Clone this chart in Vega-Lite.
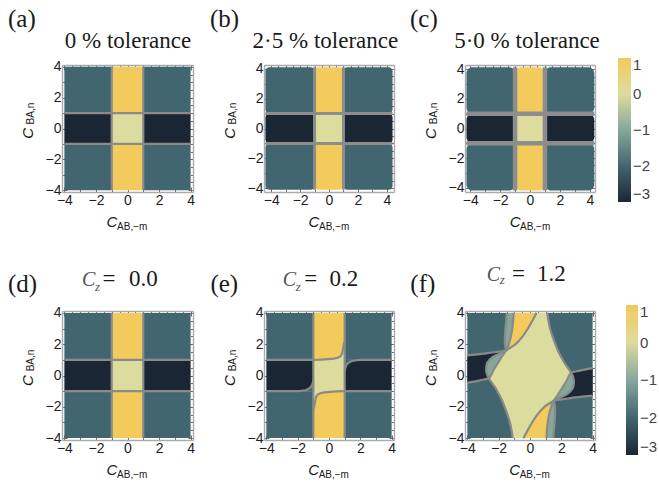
{
  "$schema": "https://vega.github.io/schema/vega-lite/v6.json",
  "background": "white",
  "padding": {"left": 8, "top": 6, "right": 0, "bottom": 0},
  "bounds": "flush",
  "columns": 3,
  "spacing": {"row": 119, "column": 71},
  "config": {
    "view": {"stroke": null},
    "axis": {"domainColor": "#ababab", "domainWidth": 1.4, "tickColor": "#6a6a6a", "tickWidth": 1, "labelFont": "Liberation Sans", "labelFontSize": 14, "labelColor": "#1e1e1e", "grid": false},
    "legend": {"labelFont": "Liberation Sans", "labelFontSize": 15, "labelColor": "#444444", "labelOffset": 7, "gradientStrokeWidth": 0},
    "style": {
      "plabel": {"font": "Liberation Serif", "fontSize": 25, "align": "left", "baseline": "alphabetic", "color": "#1a1a1a"},
      "ptitle": {"font": "Liberation Serif", "fontSize": 23, "align": "center", "baseline": "alphabetic", "color": "#1a1a1a"},
      "czc": {"font": "Liberation Serif", "fontSize": 20, "fontStyle": "italic", "align": "left", "baseline": "alphabetic", "color": "#555555"},
      "czs": {"font": "Liberation Serif", "fontSize": 13, "fontStyle": "italic", "align": "left", "baseline": "alphabetic", "color": "#555555"},
      "yc": {"font": "Liberation Sans", "fontSize": 15, "fontStyle": "italic", "align": "center", "baseline": "middle", "angle": 270, "color": "#1a1a1a"},
      "ysub": {"font": "Liberation Sans", "fontSize": 10, "align": "center", "baseline": "middle", "angle": 270, "color": "#1a1a1a"},
      "xc": {"font": "Liberation Sans", "fontSize": 15, "fontStyle": "italic", "align": "center", "baseline": "alphabetic", "color": "#1a1a1a"},
      "xsub": {"font": "Liberation Sans", "fontSize": 10, "align": "left", "baseline": "alphabetic", "color": "#1a1a1a"}
    }
  },
  "datasets": {
    "g0": [
      {"x1": -4, "x2": -1, "y1": 1, "y2": 4, "v": -2},
      {"x1": -1, "x2": 1, "y1": 1, "y2": 4, "v": 1},
      {"x1": 1, "x2": 4, "y1": 1, "y2": 4, "v": -2},
      {"x1": -4, "x2": -1, "y1": -1, "y2": 1, "v": -3},
      {"x1": -1, "x2": 1, "y1": -1, "y2": 1, "v": 0},
      {"x1": 1, "x2": 4, "y1": -1, "y2": 1, "v": -3},
      {"x1": -4, "x2": -1, "y1": -4, "y2": -1, "v": -2},
      {"x1": -1, "x2": 1, "y1": -4, "y2": -1, "v": 1},
      {"x1": 1, "x2": 4, "y1": -4, "y2": -1, "v": -2}
    ],
    "l0": [
      {"x1": -1, "y1": -4, "x2": -1, "y2": 4},
      {"x1": 1, "y1": -4, "x2": 1, "y2": 4},
      {"x1": -4, "y1": -1, "x2": 4, "y2": -1},
      {"x1": -4, "y1": 1, "x2": 4, "y2": 1}
    ],
    "g1": [
      {"x1": -4.4, "x2": -1, "y1": 1, "y2": 4.1, "v": -2},
      {"x1": -1, "x2": 1, "y1": 1, "y2": 4.1, "v": 1},
      {"x1": 1, "x2": 4.4, "y1": 1, "y2": 4.1, "v": -2},
      {"x1": -4.4, "x2": -1, "y1": -1, "y2": 1, "v": -3},
      {"x1": -1, "x2": 1, "y1": -1, "y2": 1, "v": 0},
      {"x1": 1, "x2": 4.4, "y1": -1, "y2": 1, "v": -3},
      {"x1": -4.4, "x2": -1, "y1": -4.1, "y2": -1, "v": -2},
      {"x1": -1, "x2": 1, "y1": -4.1, "y2": -1, "v": 1},
      {"x1": 1, "x2": 4.4, "y1": -4.1, "y2": -1, "v": -2}
    ],
    "l1": [
      {"x1": -1, "y1": -4.1, "x2": -1, "y2": 4.1},
      {"x1": 1, "y1": -4.1, "x2": 1, "y2": 4.1},
      {"x1": -4.4, "y1": -1, "x2": 4.4, "y2": -1},
      {"x1": -4.4, "y1": 1, "x2": 4.4, "y2": 1}
    ],
    "g2": [
      {"x1": -4.25, "x2": -1, "y1": 1, "y2": 4.15, "v": -2},
      {"x1": -1, "x2": 1, "y1": 1, "y2": 4.15, "v": 1},
      {"x1": 1, "x2": 4.3, "y1": 1, "y2": 4.15, "v": -2},
      {"x1": -4.25, "x2": -1, "y1": -1, "y2": 1, "v": -3},
      {"x1": -1, "x2": 1, "y1": -1, "y2": 1, "v": 0},
      {"x1": 1, "x2": 4.3, "y1": -1, "y2": 1, "v": -3},
      {"x1": -4.25, "x2": -1, "y1": -4.2, "y2": -1, "v": -2},
      {"x1": -1, "x2": 1, "y1": -4.2, "y2": -1, "v": 1},
      {"x1": 1, "x2": 4.3, "y1": -4.2, "y2": -1, "v": -2}
    ],
    "l2": [
      {"x1": -1, "y1": -4.2, "x2": -1, "y2": 4.15},
      {"x1": 1, "y1": -4.2, "x2": 1, "y2": 4.15},
      {"x1": -4.25, "y1": -1, "x2": 4.3, "y2": -1},
      {"x1": -4.25, "y1": 1, "x2": 4.3, "y2": 1}
    ],
    "ae": [
      {"part": "hornT", "x": -1, "ylo": 1, "yhi": 1.0, "v": 0},
      {"part": "hornT", "x": -0.5, "ylo": 1, "yhi": 1.02, "v": 0},
      {"part": "hornT", "x": -0.07, "ylo": 1, "yhi": 1.05, "v": 0},
      {"part": "hornT", "x": 0.3, "ylo": 1, "yhi": 1.08, "v": 0},
      {"part": "hornT", "x": 0.56, "ylo": 1, "yhi": 1.13, "v": 0},
      {"part": "hornT", "x": 0.72, "ylo": 1, "yhi": 1.22, "v": 0},
      {"part": "hornT", "x": 0.82, "ylo": 1, "yhi": 1.35, "v": 0},
      {"part": "hornT", "x": 0.88, "ylo": 1, "yhi": 1.6, "v": 0},
      {"part": "hornT", "x": 0.92, "ylo": 1, "yhi": 1.85, "v": 0},
      {"part": "hornT", "x": 0.96, "ylo": 1, "yhi": 2.05, "v": 0},
      {"part": "hornT", "x": 1.0, "ylo": 1, "yhi": 2.12, "v": 0},
      {"part": "hornB", "x": -1.0, "ylo": -2.12, "yhi": -1, "v": 0},
      {"part": "hornB", "x": -0.96, "ylo": -2.05, "yhi": -1, "v": 0},
      {"part": "hornB", "x": -0.92, "ylo": -1.85, "yhi": -1, "v": 0},
      {"part": "hornB", "x": -0.88, "ylo": -1.6, "yhi": -1, "v": 0},
      {"part": "hornB", "x": -0.82, "ylo": -1.35, "yhi": -1, "v": 0},
      {"part": "hornB", "x": -0.72, "ylo": -1.22, "yhi": -1, "v": 0},
      {"part": "hornB", "x": -0.56, "ylo": -1.13, "yhi": -1, "v": 0},
      {"part": "hornB", "x": -0.3, "ylo": -1.08, "yhi": -1, "v": 0},
      {"part": "hornB", "x": 0.07, "ylo": -1.05, "yhi": -1, "v": 0},
      {"part": "hornB", "x": 0.5, "ylo": -1.02, "yhi": -1, "v": 0},
      {"part": "hornB", "x": 1, "ylo": -1.0, "yhi": -1, "v": 0},
      {"part": "wedgeR", "x": 1.0, "ylo": 0.3, "yhi": 1, "v": -2},
      {"part": "wedgeR", "x": 1.03, "ylo": 0.45, "yhi": 1, "v": -2},
      {"part": "wedgeR", "x": 1.1, "ylo": 0.65, "yhi": 1, "v": -2},
      {"part": "wedgeR", "x": 1.2, "ylo": 0.78, "yhi": 1, "v": -2},
      {"part": "wedgeR", "x": 1.35, "ylo": 0.88, "yhi": 1, "v": -2},
      {"part": "wedgeR", "x": 1.52, "ylo": 0.94, "yhi": 1, "v": -2},
      {"part": "wedgeR", "x": 1.8, "ylo": 0.98, "yhi": 1, "v": -2},
      {"part": "wedgeR", "x": 2.05, "ylo": 1.0, "yhi": 1, "v": -2},
      {"part": "wedgeL", "x": -2.05, "ylo": -1, "yhi": -1.0, "v": -2},
      {"part": "wedgeL", "x": -1.8, "ylo": -1, "yhi": -0.98, "v": -2},
      {"part": "wedgeL", "x": -1.52, "ylo": -1, "yhi": -0.94, "v": -2},
      {"part": "wedgeL", "x": -1.35, "ylo": -1, "yhi": -0.88, "v": -2},
      {"part": "wedgeL", "x": -1.2, "ylo": -1, "yhi": -0.78, "v": -2},
      {"part": "wedgeL", "x": -1.1, "ylo": -1, "yhi": -0.65, "v": -2},
      {"part": "wedgeL", "x": -1.03, "ylo": -1, "yhi": -0.45, "v": -2},
      {"part": "wedgeL", "x": -1.0, "ylo": -1, "yhi": -0.3, "v": -2}
    ],
    "le": [
      {"id": "v1", "o": 1, "x": -1, "y": -4}, {"id": "v1", "o": 2, "x": -1, "y": 4},
      {"id": "v2", "o": 1, "x": 1, "y": -4}, {"id": "v2", "o": 2, "x": 1, "y": 4},
      {"id": "h1", "o": 1, "x": -4, "y": 1}, {"id": "h1", "o": 2, "x": -1, "y": 1},
      {"id": "h2", "o": 1, "x": 1, "y": -1}, {"id": "h2", "o": 2, "x": 4, "y": -1},
      {"id": "cT", "o": 1, "x": -1, "y": 1.0}, {"id": "cT", "o": 2, "x": -0.5, "y": 1.02},
      {"id": "cT", "o": 3, "x": -0.07, "y": 1.05}, {"id": "cT", "o": 4, "x": 0.3, "y": 1.08},
      {"id": "cT", "o": 5, "x": 0.56, "y": 1.13}, {"id": "cT", "o": 6, "x": 0.72, "y": 1.22},
      {"id": "cT", "o": 7, "x": 0.82, "y": 1.35}, {"id": "cT", "o": 8, "x": 0.88, "y": 1.6},
      {"id": "cT", "o": 9, "x": 0.92, "y": 1.85}, {"id": "cT", "o": 10, "x": 0.96, "y": 2.05},
      {"id": "cT", "o": 11, "x": 1.0, "y": 2.12},
      {"id": "cB", "o": 1, "x": 1, "y": -1.0}, {"id": "cB", "o": 2, "x": 0.5, "y": -1.02},
      {"id": "cB", "o": 3, "x": 0.07, "y": -1.05}, {"id": "cB", "o": 4, "x": -0.3, "y": -1.08},
      {"id": "cB", "o": 5, "x": -0.56, "y": -1.13}, {"id": "cB", "o": 6, "x": -0.72, "y": -1.22},
      {"id": "cB", "o": 7, "x": -0.82, "y": -1.35}, {"id": "cB", "o": 8, "x": -0.88, "y": -1.6},
      {"id": "cB", "o": 9, "x": -0.92, "y": -1.85}, {"id": "cB", "o": 10, "x": -0.96, "y": -2.05},
      {"id": "cB", "o": 11, "x": -1.0, "y": -2.12},
      {"id": "nR", "o": 1, "x": 1.0, "y": 0.3}, {"id": "nR", "o": 2, "x": 1.03, "y": 0.45},
      {"id": "nR", "o": 3, "x": 1.1, "y": 0.65}, {"id": "nR", "o": 4, "x": 1.2, "y": 0.78},
      {"id": "nR", "o": 5, "x": 1.35, "y": 0.88}, {"id": "nR", "o": 6, "x": 1.52, "y": 0.94},
      {"id": "nR", "o": 7, "x": 1.8, "y": 0.98}, {"id": "nR", "o": 8, "x": 2.05, "y": 1.0},
      {"id": "nR", "o": 9, "x": 4, "y": 1.0},
      {"id": "nL", "o": 1, "x": -1.0, "y": -0.3}, {"id": "nL", "o": 2, "x": -1.03, "y": -0.45},
      {"id": "nL", "o": 3, "x": -1.1, "y": -0.65}, {"id": "nL", "o": 4, "x": -1.2, "y": -0.78},
      {"id": "nL", "o": 5, "x": -1.35, "y": -0.88}, {"id": "nL", "o": 6, "x": -1.52, "y": -0.94},
      {"id": "nL", "o": 7, "x": -1.8, "y": -0.98}, {"id": "nL", "o": 8, "x": -2.05, "y": -1.0},
      {"id": "nL", "o": 9, "x": -4, "y": -1.0}
    ],
    "gf": [
      {"x1": -4, "x2": 4, "y1": -4, "y2": 4, "v": -2}
    ],
    "nf": [
      {"part": "nL", "x": -4, "ylo": -0.47, "yhi": 1.28, "v": -3},
      {"part": "nL", "x": -3.5, "ylo": -0.38, "yhi": 1.33, "v": -3},
      {"part": "nL", "x": -3, "ylo": -0.27, "yhi": 1.39, "v": -3},
      {"part": "nL", "x": -2.6, "ylo": -0.2, "yhi": 1.44, "v": -3},
      {"part": "nL", "x": -2.2, "ylo": 0.7, "yhi": 1.5, "v": -3},
      {"part": "nL", "x": -1.8, "ylo": 1.35, "yhi": 1.55, "v": -3},
      {"part": "nL", "x": -1.52, "ylo": 1.6, "yhi": 1.6, "v": -3},
      {"part": "nR", "x": 1.52, "ylo": -1.6, "yhi": -1.6, "v": -3},
      {"part": "nR", "x": 1.8, "ylo": -1.55, "yhi": -1.35, "v": -3},
      {"part": "nR", "x": 2.2, "ylo": -1.5, "yhi": -0.7, "v": -3},
      {"part": "nR", "x": 2.6, "ylo": -1.44, "yhi": 0.2, "v": -3},
      {"part": "nR", "x": 3, "ylo": -1.39, "yhi": 0.27, "v": -3},
      {"part": "nR", "x": 3.5, "ylo": -1.33, "yhi": 0.38, "v": -3},
      {"part": "nR", "x": 4, "ylo": -1.28, "yhi": 0.47, "v": -3}
    ],
    "af": [
      {"part": "gT", "y": 4, "xa": -1.48, "xb": -1.05, "v": -1},
      {"part": "gT", "y": 3.5, "xa": -1.52, "xb": -1.08, "v": -1},
      {"part": "gT", "y": 3, "xa": -1.57, "xb": -1.13, "v": -1},
      {"part": "gT", "y": 2.5, "xa": -1.6, "xb": -1.22, "v": -1},
      {"part": "gT", "y": 2, "xa": -1.6, "xb": -1.35, "v": -1},
      {"part": "gT", "y": 1.6, "xa": -1.52, "xb": -1.52, "v": -1},
      {"part": "yT", "y": 4, "xa": -1.05, "xb": 0.42, "v": 1},
      {"part": "yT", "y": 3.5, "xa": -1.08, "xb": 0.15, "v": 1},
      {"part": "yT", "y": 3, "xa": -1.13, "xb": -0.13, "v": 1},
      {"part": "yT", "y": 2.5, "xa": -1.22, "xb": -0.47, "v": 1},
      {"part": "yT", "y": 2, "xa": -1.35, "xb": -0.92, "v": 1},
      {"part": "yT", "y": 1.6, "xa": -1.52, "xb": -1.52, "v": 1},
      {"part": "gB", "y": -4, "xa": 1.05, "xb": 1.48, "v": -1},
      {"part": "gB", "y": -3.5, "xa": 1.08, "xb": 1.52, "v": -1},
      {"part": "gB", "y": -3, "xa": 1.13, "xb": 1.57, "v": -1},
      {"part": "gB", "y": -2.5, "xa": 1.22, "xb": 1.6, "v": -1},
      {"part": "gB", "y": -2, "xa": 1.35, "xb": 1.6, "v": -1},
      {"part": "gB", "y": -1.6, "xa": 1.52, "xb": 1.52, "v": -1},
      {"part": "yB", "y": -4, "xa": -0.42, "xb": 1.05, "v": 1},
      {"part": "yB", "y": -3.5, "xa": -0.15, "xb": 1.08, "v": 1},
      {"part": "yB", "y": -3, "xa": 0.13, "xb": 1.13, "v": 1},
      {"part": "yB", "y": -2.5, "xa": 0.47, "xb": 1.22, "v": 1},
      {"part": "yB", "y": -2, "xa": 0.92, "xb": 1.35, "v": 1},
      {"part": "yB", "y": -1.6, "xa": 1.52, "xb": 1.52, "v": 1},
      {"part": "lL", "y": 1.6, "xa": -1.52, "xb": -1.52, "v": -1},
      {"part": "lL", "y": 1.45, "xa": -1.83, "xb": -1.63, "v": -1},
      {"part": "lL", "y": 1.2, "xa": -2.35, "xb": -1.8, "v": -1},
      {"part": "lL", "y": 0.8, "xa": -2.74, "xb": -2.05, "v": -1},
      {"part": "lL", "y": 0.4, "xa": -2.8, "xb": -2.3, "v": -1},
      {"part": "lL", "y": 0.2, "xa": -2.78, "xb": -2.4, "v": -1},
      {"part": "lL", "y": 0, "xa": -2.72, "xb": -2.5, "v": -1},
      {"part": "lL", "y": -0.2, "xa": -2.6, "xb": -2.6, "v": -1},
      {"part": "lR", "y": -1.6, "xa": 1.52, "xb": 1.52, "v": -1},
      {"part": "lR", "y": -1.45, "xa": 1.63, "xb": 1.83, "v": -1},
      {"part": "lR", "y": -1.2, "xa": 1.8, "xb": 2.35, "v": -1},
      {"part": "lR", "y": -0.8, "xa": 2.05, "xb": 2.74, "v": -1},
      {"part": "lR", "y": -0.4, "xa": 2.3, "xb": 2.8, "v": -1},
      {"part": "lR", "y": -0.2, "xa": 2.4, "xb": 2.78, "v": -1},
      {"part": "lR", "y": 0, "xa": 2.5, "xb": 2.72, "v": -1},
      {"part": "lR", "y": 0.2, "xa": 2.6, "xb": 2.6, "v": -1},
      {"part": "ctr", "y": 4, "xa": 0.42, "xb": 1.1, "v": 0},
      {"part": "ctr", "y": 3.5, "xa": 0.15, "xb": 1.18, "v": 0},
      {"part": "ctr", "y": 3, "xa": -0.13, "xb": 1.28, "v": 0},
      {"part": "ctr", "y": 2.5, "xa": -0.47, "xb": 1.44, "v": 0},
      {"part": "ctr", "y": 2, "xa": -0.92, "xb": 1.62, "v": 0},
      {"part": "ctr", "y": 1.6, "xa": -1.52, "xb": 1.78, "v": 0},
      {"part": "ctr", "y": 1.45, "xa": -1.63, "xb": 1.85, "v": 0},
      {"part": "ctr", "y": 1.2, "xa": -1.8, "xb": 1.98, "v": 0},
      {"part": "ctr", "y": 0.8, "xa": -2.05, "xb": 2.2, "v": 0},
      {"part": "ctr", "y": 0.4, "xa": -2.3, "xb": 2.48, "v": 0},
      {"part": "ctr", "y": 0.2, "xa": -2.4, "xb": 2.6, "v": 0},
      {"part": "ctr", "y": 0, "xa": -2.5, "xb": 2.5, "v": 0},
      {"part": "ctr", "y": -0.2, "xa": -2.6, "xb": 2.4, "v": 0},
      {"part": "ctr", "y": -0.4, "xa": -2.48, "xb": 2.3, "v": 0},
      {"part": "ctr", "y": -0.8, "xa": -2.2, "xb": 2.05, "v": 0},
      {"part": "ctr", "y": -1.2, "xa": -1.98, "xb": 1.8, "v": 0},
      {"part": "ctr", "y": -1.45, "xa": -1.85, "xb": 1.63, "v": 0},
      {"part": "ctr", "y": -1.6, "xa": -1.78, "xb": 1.52, "v": 0},
      {"part": "ctr", "y": -2, "xa": -1.62, "xb": 0.92, "v": 0},
      {"part": "ctr", "y": -2.5, "xa": -1.44, "xb": 0.47, "v": 0},
      {"part": "ctr", "y": -3, "xa": -1.28, "xb": 0.13, "v": 0},
      {"part": "ctr", "y": -3.5, "xa": -1.18, "xb": -0.15, "v": 0},
      {"part": "ctr", "y": -4, "xa": -1.1, "xb": -0.42, "v": 0}
    ],
    "lf": [
      {"id": "L", "o": 1, "x": 0.42, "y": 4}, {"id": "L", "o": 2, "x": 0.15, "y": 3.5},
      {"id": "L", "o": 3, "x": -0.13, "y": 3}, {"id": "L", "o": 4, "x": -0.47, "y": 2.5},
      {"id": "L", "o": 5, "x": -0.92, "y": 2}, {"id": "L", "o": 6, "x": -1.52, "y": 1.6},
      {"id": "L", "o": 7, "x": -1.63, "y": 1.45}, {"id": "L", "o": 8, "x": -1.8, "y": 1.2},
      {"id": "L", "o": 9, "x": -2.05, "y": 0.8}, {"id": "L", "o": 10, "x": -2.3, "y": 0.4},
      {"id": "L", "o": 11, "x": -2.4, "y": 0.2}, {"id": "L", "o": 12, "x": -2.5, "y": 0},
      {"id": "L", "o": 13, "x": -2.6, "y": -0.2}, {"id": "L", "o": 14, "x": -2.48, "y": -0.4},
      {"id": "L", "o": 15, "x": -2.2, "y": -0.8}, {"id": "L", "o": 16, "x": -1.98, "y": -1.2},
      {"id": "L", "o": 17, "x": -1.85, "y": -1.45}, {"id": "L", "o": 18, "x": -1.78, "y": -1.6},
      {"id": "L", "o": 19, "x": -1.62, "y": -2}, {"id": "L", "o": 20, "x": -1.44, "y": -2.5},
      {"id": "L", "o": 21, "x": -1.28, "y": -3}, {"id": "L", "o": 22, "x": -1.18, "y": -3.5},
      {"id": "L", "o": 23, "x": -1.1, "y": -4},
      {"id": "R", "o": 1, "x": 1.1, "y": 4}, {"id": "R", "o": 2, "x": 1.18, "y": 3.5},
      {"id": "R", "o": 3, "x": 1.28, "y": 3}, {"id": "R", "o": 4, "x": 1.44, "y": 2.5},
      {"id": "R", "o": 5, "x": 1.62, "y": 2}, {"id": "R", "o": 6, "x": 1.78, "y": 1.6},
      {"id": "R", "o": 7, "x": 1.85, "y": 1.45}, {"id": "R", "o": 8, "x": 1.98, "y": 1.2},
      {"id": "R", "o": 9, "x": 2.2, "y": 0.8}, {"id": "R", "o": 10, "x": 2.48, "y": 0.4},
      {"id": "R", "o": 11, "x": 2.6, "y": 0.2}, {"id": "R", "o": 12, "x": 2.5, "y": 0},
      {"id": "R", "o": 13, "x": 2.4, "y": -0.2}, {"id": "R", "o": 14, "x": 2.3, "y": -0.4},
      {"id": "R", "o": 15, "x": 2.05, "y": -0.8}, {"id": "R", "o": 16, "x": 1.8, "y": -1.2},
      {"id": "R", "o": 17, "x": 1.63, "y": -1.45}, {"id": "R", "o": 18, "x": 1.52, "y": -1.6},
      {"id": "R", "o": 19, "x": 0.92, "y": -2}, {"id": "R", "o": 20, "x": 0.47, "y": -2.5},
      {"id": "R", "o": 21, "x": 0.13, "y": -3}, {"id": "R", "o": 22, "x": -0.15, "y": -3.5},
      {"id": "R", "o": 23, "x": -0.42, "y": -4},
      {"id": "T1a", "o": 1, "x": -1.48, "y": 4}, {"id": "T1a", "o": 2, "x": -1.52, "y": 3.5},
      {"id": "T1a", "o": 3, "x": -1.57, "y": 3}, {"id": "T1a", "o": 4, "x": -1.6, "y": 2.5},
      {"id": "T1a", "o": 5, "x": -1.6, "y": 2}, {"id": "T1a", "o": 6, "x": -1.52, "y": 1.6},
      {"id": "T2a", "o": 1, "x": -1.05, "y": 4}, {"id": "T2a", "o": 2, "x": -1.08, "y": 3.5},
      {"id": "T2a", "o": 3, "x": -1.13, "y": 3}, {"id": "T2a", "o": 4, "x": -1.22, "y": 2.5},
      {"id": "T2a", "o": 5, "x": -1.35, "y": 2}, {"id": "T2a", "o": 6, "x": -1.52, "y": 1.6},
      {"id": "T1b", "o": 1, "x": 1.48, "y": -4}, {"id": "T1b", "o": 2, "x": 1.52, "y": -3.5},
      {"id": "T1b", "o": 3, "x": 1.57, "y": -3}, {"id": "T1b", "o": 4, "x": 1.6, "y": -2.5},
      {"id": "T1b", "o": 5, "x": 1.6, "y": -2}, {"id": "T1b", "o": 6, "x": 1.52, "y": -1.6},
      {"id": "T2b", "o": 1, "x": 1.05, "y": -4}, {"id": "T2b", "o": 2, "x": 1.08, "y": -3.5},
      {"id": "T2b", "o": 3, "x": 1.13, "y": -3}, {"id": "T2b", "o": 4, "x": 1.22, "y": -2.5},
      {"id": "T2b", "o": 5, "x": 1.35, "y": -2}, {"id": "T2b", "o": 6, "x": 1.52, "y": -1.6},
      {"id": "OL", "o": 1, "x": -1.52, "y": 1.6}, {"id": "OL", "o": 2, "x": -1.83, "y": 1.45},
      {"id": "OL", "o": 3, "x": -2.35, "y": 1.2}, {"id": "OL", "o": 4, "x": -2.74, "y": 0.8},
      {"id": "OL", "o": 5, "x": -2.8, "y": 0.4}, {"id": "OL", "o": 6, "x": -2.78, "y": 0.2},
      {"id": "OL", "o": 7, "x": -2.72, "y": 0}, {"id": "OL", "o": 8, "x": -2.6, "y": -0.2},
      {"id": "OR", "o": 1, "x": 1.52, "y": -1.6}, {"id": "OR", "o": 2, "x": 1.83, "y": -1.45},
      {"id": "OR", "o": 3, "x": 2.35, "y": -1.2}, {"id": "OR", "o": 4, "x": 2.74, "y": -0.8},
      {"id": "OR", "o": 5, "x": 2.8, "y": -0.4}, {"id": "OR", "o": 6, "x": 2.78, "y": -0.2},
      {"id": "OR", "o": 7, "x": 2.72, "y": 0}, {"id": "OR", "o": 8, "x": 2.6, "y": 0.2},
      {"id": "NUL", "o": 1, "x": -4, "y": 1.28}, {"id": "NUL", "o": 2, "x": -3.5, "y": 1.33},
      {"id": "NUL", "o": 3, "x": -3, "y": 1.39}, {"id": "NUL", "o": 4, "x": -2.6, "y": 1.44},
      {"id": "NUL", "o": 5, "x": -2.2, "y": 1.5}, {"id": "NUL", "o": 6, "x": -1.8, "y": 1.55},
      {"id": "NUL", "o": 7, "x": -1.52, "y": 1.6},
      {"id": "NLL", "o": 1, "x": -4, "y": -0.47}, {"id": "NLL", "o": 2, "x": -3.5, "y": -0.38},
      {"id": "NLL", "o": 3, "x": -3, "y": -0.27}, {"id": "NLL", "o": 4, "x": -2.6, "y": -0.2},
      {"id": "NLR", "o": 1, "x": 4, "y": -1.28}, {"id": "NLR", "o": 2, "x": 3.5, "y": -1.33},
      {"id": "NLR", "o": 3, "x": 3, "y": -1.39}, {"id": "NLR", "o": 4, "x": 2.6, "y": -1.44},
      {"id": "NLR", "o": 5, "x": 2.2, "y": -1.5}, {"id": "NLR", "o": 6, "x": 1.8, "y": -1.55},
      {"id": "NLR", "o": 7, "x": 1.52, "y": -1.6},
      {"id": "NUR", "o": 1, "x": 4, "y": 0.47}, {"id": "NUR", "o": 2, "x": 3.5, "y": 0.38},
      {"id": "NUR", "o": 3, "x": 3, "y": 0.27}, {"id": "NUR", "o": 4, "x": 2.6, "y": 0.2}
    ]
  },
  "concat": [
    {
      "width": 131, "height": 127,
      "layer": [
        {"data": {"name": "g0"}, "mark": {"type": "rect"},
         "encoding": {
           "x": {"field": "x1", "type": "quantitative", "scale": {"domain": [-4.15, 4.15], "nice": false, "zero": false},
                 "axis": {"orient": "bottom", "title": null, "tickCount": 17, "format": "d", "labelExpr": "datum.value % 2 === 0 ? datum.label : ''", "tickSize": {"condition": {"test": "datum.value % 2 === 0", "value": -5}, "value": -2.5}, "labelPadding": 6, "labelFlush": false, "labelOverlap": false}},
           "x2": {"field": "x2"},
           "y": {"field": "y1", "type": "quantitative", "scale": {"domain": [-4.12, 4.12], "nice": false, "zero": false},
                 "axis": {"orient": "left", "title": null, "tickCount": 17, "format": "d", "labelExpr": "datum.value % 2 === 0 ? datum.label : ''", "tickSize": {"condition": {"test": "datum.value % 2 === 0", "value": -5}, "value": -2.5}, "labelPadding": 6, "labelFlush": false, "labelOverlap": false}},
           "y2": {"field": "y2"},
           "color": {"field": "v", "type": "quantitative",
                     "scale": {"type": "linear", "domain": [-3, -2, -1, 0, 1], "range": ["#1b2634", "#416670", "#86a89b", "#dcdc9e", "#f3ca5c"], "interpolate": "rgb"},
                     "legend": null}
         }},
        {"data": {"name": "l0"}, "mark": {"type": "rule", "color": "#8a8a8a", "strokeWidth": 2.2},
         "encoding": {
           "x": {"field": "x1", "type": "quantitative", "axis": {"orient": "top", "title": null, "tickCount": 17, "labels": false, "tickSize": {"condition": {"test": "datum.value % 2 === 0", "value": -5}, "value": -2.5}}},
           "x2": {"field": "x2"},
           "y": {"field": "y1", "type": "quantitative", "axis": {"orient": "right", "title": null, "tickCount": 17, "labels": false, "tickSize": {"condition": {"test": "datum.value % 2 === 0", "value": -5}, "value": -2.5}}},
           "y2": {"field": "y2"}
         }},
        {"data": {"values": [{}]}, "mark": {"type": "text", "style": "plabel"}, "encoding": {"x": {"datum": -7.57, "axis": null}, "y": {"datum": 6.59, "axis": null}, "text": {"value": "(a)"}}},
        {"data": {"values": [{}]}, "mark": {"type": "text", "style": "ptitle"}, "encoding": {"x": {"datum": 0.03, "axis": null}, "y": {"datum": 5.22, "axis": null}, "text": {"value": "0 % tolerance"}}},
        {"data": {"values": [{}]}, "mark": {"type": "text", "style": "yc"}, "encoding": {"x": {"datum": -6.3, "axis": null}, "y": {"datum": -0.32, "axis": null}, "text": {"value": "C"}}},
        {"data": {"values": [{}]}, "mark": {"type": "text", "style": "ysub"}, "encoding": {"x": {"datum": -6.11, "axis": null}, "y": {"datum": 0.97, "axis": null}, "text": {"value": "BA,n"}}},
        {"data": {"values": [{}]}, "mark": {"type": "text", "style": "xc"}, "encoding": {"x": {"datum": -0.98, "axis": null}, "y": {"datum": -6.39, "axis": null}, "text": {"value": "C"}}},
        {"data": {"values": [{}]}, "mark": {"type": "text", "style": "xsub"}, "encoding": {"x": {"datum": -0.66, "axis": null}, "y": {"datum": -6.59, "axis": null}, "text": {"value": "AB,−m"}}}
      ],
      "resolve": {"axis": {"x": "independent", "y": "independent"}}
    },
    {
      "width": 130, "height": 127,
      "layer": [
        {"data": {"name": "g1"}, "mark": {"type": "rect", "cornerRadius": 4},
         "encoding": {
           "x": {"field": "x1", "type": "quantitative", "scale": {"domain": [-4.5, 4.5], "nice": false, "zero": false},
                 "axis": {"orient": "bottom", "title": null, "tickCount": 17, "format": "d", "labelExpr": "datum.value % 2 === 0 ? datum.label : ''", "tickSize": {"condition": {"test": "datum.value % 2 === 0", "value": -5}, "value": -2.5}, "labelPadding": 6, "labelFlush": false, "labelOverlap": false}},
           "x2": {"field": "x2"},
           "y": {"field": "y1", "type": "quantitative", "scale": {"domain": [-4.25, 4.25], "nice": false, "zero": false},
                 "axis": {"orient": "left", "title": null, "tickCount": 17, "format": "d", "labelExpr": "datum.value % 2 === 0 ? datum.label : ''", "tickSize": {"condition": {"test": "datum.value % 2 === 0", "value": -5}, "value": -2.5}, "labelPadding": 6, "labelFlush": false, "labelOverlap": false}},
           "y2": {"field": "y2"},
           "color": {"field": "v", "type": "quantitative",
                     "scale": {"type": "linear", "domain": [-3, -2, -1, 0, 1], "range": ["#1b2634", "#416670", "#86a89b", "#dcdc9e", "#f3ca5c"], "interpolate": "rgb"},
                     "legend": null}
         }},
        {"data": {"name": "l1"}, "mark": {"type": "rule", "color": "#8d8d8d", "strokeWidth": 3},
         "encoding": {
           "x": {"field": "x1", "type": "quantitative", "axis": {"orient": "top", "title": null, "tickCount": 17, "labels": false, "tickSize": {"condition": {"test": "datum.value % 2 === 0", "value": -5}, "value": -2.5}}},
           "x2": {"field": "x2"},
           "y": {"field": "y1", "type": "quantitative", "axis": {"orient": "right", "title": null, "tickCount": 17, "labels": false, "tickSize": {"condition": {"test": "datum.value % 2 === 0", "value": -5}, "value": -2.5}}},
           "y2": {"field": "y2"}
         }},
        {"data": {"values": [{}]}, "mark": {"type": "text", "style": "plabel"}, "encoding": {"x": {"datum": -8.24, "axis": null}, "y": {"datum": 6.79, "axis": null}, "text": {"value": "(b)"}}},
        {"data": {"values": [{}]}, "mark": {"type": "text", "style": "ptitle"}, "encoding": {"x": {"datum": -0.25, "axis": null}, "y": {"datum": 5.39, "axis": null}, "text": {"value": "2·5 % tolerance"}}},
        {"data": {"values": [{}]}, "mark": {"type": "text", "style": "yc"}, "encoding": {"x": {"datum": -6.85, "axis": null}, "y": {"datum": -0.33, "axis": null}, "text": {"value": "C"}}},
        {"data": {"values": [{}]}, "mark": {"type": "text", "style": "ysub"}, "encoding": {"x": {"datum": -6.65, "axis": null}, "y": {"datum": 1.0, "axis": null}, "text": {"value": "BA,n"}}},
        {"data": {"values": [{}]}, "mark": {"type": "text", "style": "xc"}, "encoding": {"x": {"datum": -1.04, "axis": null}, "y": {"datum": -6.59, "axis": null}, "text": {"value": "C"}}},
        {"data": {"values": [{}]}, "mark": {"type": "text", "style": "xsub"}, "encoding": {"x": {"datum": -0.69, "axis": null}, "y": {"datum": -6.79, "axis": null}, "text": {"value": "AB,−m"}}}
      ],
      "resolve": {"axis": {"x": "independent", "y": "independent"}}
    },
    {
      "width": 130, "height": 127,
      "layer": [
        {"data": {"name": "g2"}, "mark": {"type": "rect", "cornerRadius": 6},
         "encoding": {
           "x": {"field": "x1", "type": "quantitative", "scale": {"domain": [-4.35, 4.35], "nice": false, "zero": false},
                 "axis": {"orient": "bottom", "title": null, "tickCount": 17, "format": "d", "labelExpr": "datum.value % 2 === 0 ? datum.label : ''", "tickSize": {"condition": {"test": "datum.value % 2 === 0", "value": -5}, "value": -2.5}, "labelPadding": 6, "labelFlush": false, "labelOverlap": false}},
           "x2": {"field": "x2"},
           "y": {"field": "y1", "type": "quantitative", "scale": {"domain": [-4.3, 4.3], "nice": false, "zero": false},
                 "axis": {"orient": "left", "title": null, "tickCount": 17, "format": "d", "labelExpr": "datum.value % 2 === 0 ? datum.label : ''", "tickSize": {"condition": {"test": "datum.value % 2 === 0", "value": -5}, "value": -2.5}, "labelPadding": 6, "labelFlush": false, "labelOverlap": false}},
           "y2": {"field": "y2"},
           "color": {"field": "v", "type": "quantitative",
                     "scale": {"type": "linear", "domain": [-3, -2, -1, 0, 1], "range": ["#1b2634", "#416670", "#86a89b", "#dcdc9e", "#f3ca5c"], "interpolate": "rgb"},
                     "legend": {"title": null, "orient": "none", "legendX": 153, "legendY": -7, "direction": "vertical", "gradientLength": 144, "gradientThickness": 13, "values": [1, 0, -1, -2, -3]}}
         }},
        {"data": {"name": "l2"}, "mark": {"type": "rule", "color": "#8d8d8d", "strokeWidth": 4.5},
         "encoding": {
           "x": {"field": "x1", "type": "quantitative", "axis": {"orient": "top", "title": null, "tickCount": 17, "labels": false, "tickSize": {"condition": {"test": "datum.value % 2 === 0", "value": -5}, "value": -2.5}}},
           "x2": {"field": "x2"},
           "y": {"field": "y1", "type": "quantitative", "axis": {"orient": "right", "title": null, "tickCount": 17, "labels": false, "tickSize": {"condition": {"test": "datum.value % 2 === 0", "value": -5}, "value": -2.5}}},
           "y2": {"field": "y2"}
         }},
        {"data": {"values": [{}]}, "mark": {"type": "text", "style": "plabel"}, "encoding": {"x": {"datum": -8.03, "axis": null}, "y": {"datum": 6.87, "axis": null}, "text": {"value": "(c)"}}},
        {"data": {"values": [{}]}, "mark": {"type": "text", "style": "ptitle"}, "encoding": {"x": {"datum": -0.2, "axis": null}, "y": {"datum": 5.45, "axis": null}, "text": {"value": "5·0 % tolerance"}}},
        {"data": {"values": [{}]}, "mark": {"type": "text", "style": "yc"}, "encoding": {"x": {"datum": -6.63, "axis": null}, "y": {"datum": -0.34, "axis": null}, "text": {"value": "C"}}},
        {"data": {"values": [{}]}, "mark": {"type": "text", "style": "ysub"}, "encoding": {"x": {"datum": -6.43, "axis": null}, "y": {"datum": 1.02, "axis": null}, "text": {"value": "BA,n"}}},
        {"data": {"values": [{}]}, "mark": {"type": "text", "style": "xc"}, "encoding": {"x": {"datum": -1.0, "axis": null}, "y": {"datum": -6.67, "axis": null}, "text": {"value": "C"}}},
        {"data": {"values": [{}]}, "mark": {"type": "text", "style": "xsub"}, "encoding": {"x": {"datum": -0.67, "axis": null}, "y": {"datum": -6.87, "axis": null}, "text": {"value": "AB,−m"}}}
      ],
      "resolve": {"axis": {"x": "independent", "y": "independent"}}
    },
    {
      "width": 131, "height": 129,
      "layer": [
        {"data": {"name": "g0"}, "mark": {"type": "rect"},
         "encoding": {
           "x": {"field": "x1", "type": "quantitative", "scale": {"domain": [-4.15, 4.15], "nice": false, "zero": false},
                 "axis": {"orient": "bottom", "title": null, "tickCount": 17, "format": "d", "labelExpr": "datum.value % 2 === 0 ? datum.label : ''", "tickSize": {"condition": {"test": "datum.value % 2 === 0", "value": -5}, "value": -2.5}, "labelPadding": 6, "labelFlush": false, "labelOverlap": false}},
           "x2": {"field": "x2"},
           "y": {"field": "y1", "type": "quantitative", "scale": {"domain": [-4.12, 4.12], "nice": false, "zero": false},
                 "axis": {"orient": "left", "title": null, "tickCount": 17, "format": "d", "labelExpr": "datum.value % 2 === 0 ? datum.label : ''", "tickSize": {"condition": {"test": "datum.value % 2 === 0", "value": -5}, "value": -2.5}, "labelPadding": 6, "labelFlush": false, "labelOverlap": false}},
           "y2": {"field": "y2"},
           "color": {"field": "v", "type": "quantitative",
                     "scale": {"type": "linear", "domain": [-3, -2, -1, 0, 1], "range": ["#1b2634", "#416670", "#86a89b", "#dcdc9e", "#f3ca5c"], "interpolate": "rgb"},
                     "legend": null}
         }},
        {"data": {"name": "l0"}, "mark": {"type": "rule", "color": "#8a8a8a", "strokeWidth": 2.2},
         "encoding": {
           "x": {"field": "x1", "type": "quantitative", "axis": {"orient": "top", "title": null, "tickCount": 17, "labels": false, "tickSize": {"condition": {"test": "datum.value % 2 === 0", "value": -5}, "value": -2.5}}},
           "x2": {"field": "x2"},
           "y": {"field": "y1", "type": "quantitative", "axis": {"orient": "right", "title": null, "tickCount": 17, "labels": false, "tickSize": {"condition": {"test": "datum.value % 2 === 0", "value": -5}, "value": -2.5}}},
           "y2": {"field": "y2"}
         }},
        {"data": {"values": [{}]}, "mark": {"type": "text", "style": "plabel"}, "encoding": {"x": {"datum": -7.57, "axis": null}, "y": {"datum": 5.33, "axis": null}, "text": {"value": "(d)"}}},
        {"data": {"values": [{}]}, "mark": {"type": "text", "style": "czc"}, "encoding": {"x": {"datum": -2.88, "axis": null}, "y": {"datum": 5.72, "axis": null}, "text": {"value": "C"}}},
        {"data": {"values": [{}]}, "mark": {"type": "text", "style": "czs"}, "encoding": {"x": {"datum": -2.06, "axis": null}, "y": {"datum": 5.4, "axis": null}, "text": {"value": "z"}}},
        {"data": {"values": [{}]}, "mark": {"type": "text", "style": "ptitle"}, "encoding": {"x": {"datum": -1.17, "axis": null}, "y": {"datum": 5.72, "axis": null}, "text": {"value": "="}}},
        {"data": {"values": [{}]}, "mark": {"type": "text", "style": "ptitle"}, "encoding": {"x": {"datum": 1.01, "axis": null}, "y": {"datum": 5.72, "axis": null}, "text": {"value": "0.0"}}},
        {"data": {"values": [{}]}, "mark": {"type": "text", "style": "yc"}, "encoding": {"x": {"datum": -6.3, "axis": null}, "y": {"datum": -0.32, "axis": null}, "text": {"value": "C"}}},
        {"data": {"values": [{}]}, "mark": {"type": "text", "style": "ysub"}, "encoding": {"x": {"datum": -6.11, "axis": null}, "y": {"datum": 0.96, "axis": null}, "text": {"value": "BA,n"}}},
        {"data": {"values": [{}]}, "mark": {"type": "text", "style": "xc"}, "encoding": {"x": {"datum": -0.98, "axis": null}, "y": {"datum": -6.36, "axis": null}, "text": {"value": "C"}}},
        {"data": {"values": [{}]}, "mark": {"type": "text", "style": "xsub"}, "encoding": {"x": {"datum": -0.66, "axis": null}, "y": {"datum": -6.55, "axis": null}, "text": {"value": "AB,−m"}}}
      ],
      "resolve": {"axis": {"x": "independent", "y": "independent"}}
    },
    {
      "width": 130, "height": 129,
      "layer": [
        {"data": {"name": "g0"}, "mark": {"type": "rect"},
         "encoding": {
           "x": {"field": "x1", "type": "quantitative", "scale": {"domain": [-4.15, 4.15], "nice": false, "zero": false},
                 "axis": {"orient": "bottom", "title": null, "tickCount": 17, "format": "d", "labelExpr": "datum.value % 2 === 0 ? datum.label : ''", "tickSize": {"condition": {"test": "datum.value % 2 === 0", "value": -5}, "value": -2.5}, "labelPadding": 6, "labelFlush": false, "labelOverlap": false}},
           "x2": {"field": "x2"},
           "y": {"field": "y1", "type": "quantitative", "scale": {"domain": [-4.12, 4.12], "nice": false, "zero": false},
                 "axis": {"orient": "left", "title": null, "tickCount": 17, "format": "d", "labelExpr": "datum.value % 2 === 0 ? datum.label : ''", "tickSize": {"condition": {"test": "datum.value % 2 === 0", "value": -5}, "value": -2.5}, "labelPadding": 6, "labelFlush": false, "labelOverlap": false}},
           "y2": {"field": "y2"},
           "color": {"field": "v", "type": "quantitative",
                     "scale": {"type": "linear", "domain": [-3, -2, -1, 0, 1], "range": ["#1b2634", "#416670", "#86a89b", "#dcdc9e", "#f3ca5c"], "interpolate": "rgb"},
                     "legend": null}
         }},
        {"data": {"name": "ae"}, "mark": {"type": "area", "orient": "vertical"},
         "encoding": {
           "x": {"field": "x", "type": "quantitative", "axis": null},
           "y": {"field": "ylo", "type": "quantitative", "axis": null},
           "y2": {"field": "yhi"},
           "color": {"field": "v", "type": "quantitative", "legend": null},
           "detail": {"field": "part"}
         }},
        {"data": {"name": "le"}, "mark": {"type": "line", "color": "#8a8a8a", "strokeWidth": 2.2},
         "encoding": {
           "x": {"field": "x", "type": "quantitative", "axis": {"orient": "top", "title": null, "tickCount": 17, "labels": false, "tickSize": {"condition": {"test": "datum.value % 2 === 0", "value": -5}, "value": -2.5}}},
           "y": {"field": "y", "type": "quantitative", "axis": {"orient": "right", "title": null, "tickCount": 17, "labels": false, "tickSize": {"condition": {"test": "datum.value % 2 === 0", "value": -5}, "value": -2.5}}},
           "detail": {"field": "id"},
           "order": {"field": "o"}
         }},
        {"data": {"values": [{}]}, "mark": {"type": "text", "style": "plabel"}, "encoding": {"x": {"datum": -7.57, "axis": null}, "y": {"datum": 5.33, "axis": null}, "text": {"value": "(e)"}}},
        {"data": {"values": [{}]}, "mark": {"type": "text", "style": "czc"}, "encoding": {"x": {"datum": -2.95, "axis": null}, "y": {"datum": 5.72, "axis": null}, "text": {"value": "C"}}},
        {"data": {"values": [{}]}, "mark": {"type": "text", "style": "czs"}, "encoding": {"x": {"datum": -2.12, "axis": null}, "y": {"datum": 5.4, "axis": null}, "text": {"value": "z"}}},
        {"data": {"values": [{}]}, "mark": {"type": "text", "style": "ptitle"}, "encoding": {"x": {"datum": -1.17, "axis": null}, "y": {"datum": 5.72, "axis": null}, "text": {"value": "="}}},
        {"data": {"values": [{}]}, "mark": {"type": "text", "style": "ptitle"}, "encoding": {"x": {"datum": 0.95, "axis": null}, "y": {"datum": 5.72, "axis": null}, "text": {"value": "0.2"}}},
        {"data": {"values": [{}]}, "mark": {"type": "text", "style": "yc"}, "encoding": {"x": {"datum": -6.3, "axis": null}, "y": {"datum": -0.32, "axis": null}, "text": {"value": "C"}}},
        {"data": {"values": [{}]}, "mark": {"type": "text", "style": "ysub"}, "encoding": {"x": {"datum": -6.11, "axis": null}, "y": {"datum": 0.96, "axis": null}, "text": {"value": "BA,n"}}},
        {"data": {"values": [{}]}, "mark": {"type": "text", "style": "xc"}, "encoding": {"x": {"datum": -0.98, "axis": null}, "y": {"datum": -6.36, "axis": null}, "text": {"value": "C"}}},
        {"data": {"values": [{}]}, "mark": {"type": "text", "style": "xsub"}, "encoding": {"x": {"datum": -0.66, "axis": null}, "y": {"datum": -6.55, "axis": null}, "text": {"value": "AB,−m"}}}
      ],
      "resolve": {"axis": {"x": "independent", "y": "independent"}}
    },
    {
      "width": 130, "height": 129,
      "layer": [
        {"data": {"name": "gf"}, "mark": {"type": "rect"},
         "encoding": {
           "x": {"field": "x1", "type": "quantitative", "scale": {"domain": [-4.15, 4.15], "nice": false, "zero": false},
                 "axis": {"orient": "bottom", "title": null, "tickCount": 17, "format": "d", "labelExpr": "datum.value % 2 === 0 ? datum.label : ''", "tickSize": {"condition": {"test": "datum.value % 2 === 0", "value": -5}, "value": -2.5}, "labelPadding": 6, "labelFlush": false, "labelOverlap": false}},
           "x2": {"field": "x2"},
           "y": {"field": "y1", "type": "quantitative", "scale": {"domain": [-4.12, 4.12], "nice": false, "zero": false},
                 "axis": {"orient": "left", "title": null, "tickCount": 17, "format": "d", "labelExpr": "datum.value % 2 === 0 ? datum.label : ''", "tickSize": {"condition": {"test": "datum.value % 2 === 0", "value": -5}, "value": -2.5}, "labelPadding": 6, "labelFlush": false, "labelOverlap": false}},
           "y2": {"field": "y2"},
           "color": {"field": "v", "type": "quantitative",
                     "scale": {"type": "linear", "domain": [-3, -2, -1, 0, 1], "range": ["#1b2634", "#416670", "#86a89b", "#dcdc9e", "#f3ca5c"], "interpolate": "rgb"},
                     "legend": {"title": null, "orient": "none", "legendX": 161, "legendY": -6, "direction": "vertical", "gradientLength": 150, "gradientThickness": 12, "values": [1, 0, -1, -2, -3]}}
         }},
        {"data": {"name": "nf"}, "mark": {"type": "area", "orient": "vertical"},
         "encoding": {
           "x": {"field": "x", "type": "quantitative", "axis": null},
           "y": {"field": "ylo", "type": "quantitative", "axis": null},
           "y2": {"field": "yhi"},
           "color": {"field": "v", "type": "quantitative"},
           "detail": {"field": "part"}
         }},
        {"data": {"name": "af"}, "mark": {"type": "area", "orient": "horizontal", "interpolate": "catmull-rom"},
         "encoding": {
           "y": {"field": "y", "type": "quantitative", "axis": null},
           "x": {"field": "xa", "type": "quantitative", "axis": null},
           "x2": {"field": "xb"},
           "color": {"field": "v", "type": "quantitative"},
           "detail": {"field": "part"}
         }},
        {"data": {"name": "lf"}, "mark": {"type": "line", "color": "#8a8a8a", "strokeWidth": 2.2, "interpolate": "catmull-rom"},
         "encoding": {
           "x": {"field": "x", "type": "quantitative", "axis": {"orient": "top", "title": null, "tickCount": 17, "labels": false, "tickSize": {"condition": {"test": "datum.value % 2 === 0", "value": -5}, "value": -2.5}}},
           "y": {"field": "y", "type": "quantitative", "axis": {"orient": "right", "title": null, "tickCount": 17, "labels": false, "tickSize": {"condition": {"test": "datum.value % 2 === 0", "value": -5}, "value": -2.5}}},
           "detail": {"field": "id"},
           "order": {"field": "o"}
         }},
        {"data": {"values": [{}]}, "mark": {"type": "text", "style": "plabel"}, "encoding": {"x": {"datum": -7.64, "axis": null}, "y": {"datum": 5.33, "axis": null}, "text": {"value": "(f)"}}},
        {"data": {"values": [{}]}, "mark": {"type": "text", "style": "czc"}, "encoding": {"x": {"datum": -2.76, "axis": null}, "y": {"datum": 6.04, "axis": null}, "text": {"value": "C"}}},
        {"data": {"values": [{}]}, "mark": {"type": "text", "style": "czs"}, "encoding": {"x": {"datum": -1.93, "axis": null}, "y": {"datum": 5.83, "axis": null}, "text": {"value": "z"}}},
        {"data": {"values": [{}]}, "mark": {"type": "text", "style": "ptitle"}, "encoding": {"x": {"datum": -0.73, "axis": null}, "y": {"datum": 6.04, "axis": null}, "text": {"value": "="}}},
        {"data": {"values": [{}]}, "mark": {"type": "text", "style": "ptitle"}, "encoding": {"x": {"datum": 1.36, "axis": null}, "y": {"datum": 6.04, "axis": null}, "text": {"value": "1.2"}}},
        {"data": {"values": [{}]}, "mark": {"type": "text", "style": "yc"}, "encoding": {"x": {"datum": -6.3, "axis": null}, "y": {"datum": -0.32, "axis": null}, "text": {"value": "C"}}},
        {"data": {"values": [{}]}, "mark": {"type": "text", "style": "ysub"}, "encoding": {"x": {"datum": -6.11, "axis": null}, "y": {"datum": 0.96, "axis": null}, "text": {"value": "BA,n"}}},
        {"data": {"values": [{}]}, "mark": {"type": "text", "style": "xc"}, "encoding": {"x": {"datum": -0.98, "axis": null}, "y": {"datum": -6.36, "axis": null}, "text": {"value": "C"}}},
        {"data": {"values": [{}]}, "mark": {"type": "text", "style": "xsub"}, "encoding": {"x": {"datum": -0.66, "axis": null}, "y": {"datum": -6.55, "axis": null}, "text": {"value": "AB,−m"}}}
      ],
      "resolve": {"axis": {"x": "independent", "y": "independent"}}
    }
  ],
  "resolve": {"scale": {"color": "independent"}}
}
